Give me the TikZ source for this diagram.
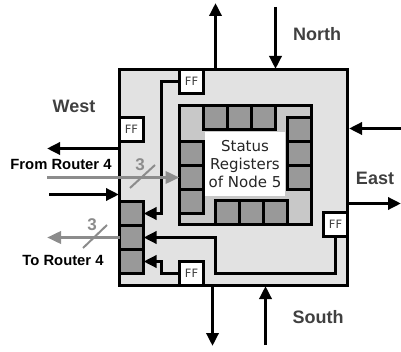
\documentclass[tikz,border=0pt]{standalone}
\usepackage{fontspec}
\setmainfont{DejaVu Sans}
\newfontfamily\labelfont{Liberation Sans}
\usetikzlibrary{arrows.meta}
\definecolor{outerfill}{HTML}{E2E2E2}
\definecolor{innerfill}{HTML}{C8C8C8}
\definecolor{cellfill}{HTML}{999999}
\definecolor{busgrey}{HTML}{8C8C8C}
\definecolor{labelgrey}{HTML}{404040}
\tikzset{
  x=1pt,y=-1pt,
  base/.style={draw=black,line width=3pt,inner sep=0pt,outer sep=0pt,minimum size=24pt},
  cellbox/.style={base,fill=cellfill},
  ffbox/.style={base,fill=white,text=labelgrey,font=\fontsize{11.5}{12}\selectfont},
  wire/.style={line width=3.6pt,black,line join=miter,-{Triangle[length=13pt,width=12pt]}},
  bus/.style={line width=3.6pt,busgrey,-{Triangle[length=14pt,width=12pt]}},
  slash/.style={line width=2pt,busgrey},
  portlabel/.style={font=\labelfont\bfseries\fontsize{18}{18}\selectfont,text=labelgrey,inner sep=0pt},
  routerlabel/.style={font=\labelfont\bfseries\fontsize{14.8}{15}\selectfont,text=black,inner sep=0pt},
  buslabel/.style={font=\labelfont\bfseries\fontsize{17}{17}\selectfont,text=busgrey,inner sep=0pt},
}
\begin{document}
\begin{tikzpicture}
\useasboundingbox (0,0) rectangle (401,352);
% boxes
\node[base,fill=outerfill,minimum width=228pt,minimum height=216pt] (outer) at (233.5,177.5) {};
\node[base,fill=innerfill,minimum width=132pt,minimum height=119pt] (inner) at (245.5,165) {};
% status text
\node[fill=white,minimum width=80pt,minimum height=64pt,inner sep=0pt,align=center,font=\fontsize{15}{18}\selectfont,text=black!85] (status) at (245,164.5) {Status\\Registers\\of Node 5};
% top cells
\node[cellbox] (t1) at (215.5,117.5) {};
\node[cellbox] (t2) at (239.5,117.5) {};
\node[cellbox] (t3) at (263.5,117.5) {};
% right cells
\node[cellbox] (r1) at (299.5,129.5) {};
\node[cellbox] (r2) at (299.5,153.5) {};
\node[cellbox] (r3) at (299.5,177.5) {};
% left cells
\node[cellbox] (l1) at (191.5,153.5) {};
\node[cellbox] (l2) at (191.5,177.5) {};
\node[cellbox] (l3) at (191.5,201.5) {};
% bottom cells
\node[cellbox] (b1) at (227.5,212.5) {};
\node[cellbox] (b2) at (251.5,212.5) {};
\node[cellbox] (b3) at (275.5,212.5) {};
% west cells
\node[cellbox] (w1) at (131.5,213.5) {};
\node[cellbox] (w2) at (131.5,237.5) {};
\node[cellbox] (w3) at (131.5,261.5) {};
% free ends
\coordinate (nout) at (215.5,3);
\coordinate (nin) at (275.5,7);
\coordinate (ein) at (401,128.5);
\coordinate (eout) at (401,203.5);
\coordinate (sout) at (212.5,346);
\coordinate (sin) at (265.5,345);
\coordinate (wout) at (47,148.5);
\coordinate (win) at (49,194.5);
\coordinate (gin) at (47,177.5);
\coordinate (gout) at (47,237.5);
\coordinate (s1a) at (130,188);
\coordinate (s1b) at (155,165);
\coordinate (s2a) at (83,248);
\coordinate (s2b) at (107,225);
% FF boxes
\node[ffbox] (fftop) at (191.5,81.5) {FF};
\node[ffbox] (ffwest) at (131.5,129.5) {FF};
\node[ffbox] (ffbot) at (191.5,273.5) {FF};
\node[ffbox] (ffeast) at (335.5,224.5) {FF};
% internal wires
\draw[wire] (fftop.west) -- (161.5,81.5) -- (161.5,213.5) -- (w1.east);
\draw[wire] (ffeast.south) -- (335.5,273.5) -- (215.5,273.5) -- (215.5,237.5) -- (w2.east);
\draw[wire] (ffbot.west) -- (161.5,273.5) -- (161.5,261.5) -- (w3.east);
% ports
\draw[wire] (215.5,69) -- (nout);
\draw[wire] (nin) -- (275.5,69);
\draw[wire] (ein) -- (349,128.5);
\draw[wire] (347.5,203.5) -- (eout);
\draw[wire] (212.5,286) -- (sout);
\draw[wire] (sin) -- (265.5,286);
\draw[wire] (119,148.5) -- (wout);
\draw[wire] (win) -- (119,194.5);
% buses
\draw[bus] (gin) -- (l2.west);
\draw[bus] (w2.west) -- (gout);
\draw[slash] (s1a) -- (s1b);
\draw[slash] (s2a) -- (s2b);
% labels
\node[buslabel] (n3a) at (140,165) {3};
\node[buslabel] (n3b) at (92,225) {3};
\node[portlabel] (west) at (74,106) {West};
\node[portlabel] (north) at (317,34) {North};
\node[portlabel] (east) at (375,178) {East};
\node[portlabel] (south) at (318,317) {South};
\node[routerlabel] (from) at (61,164) {From Router 4};
\node[routerlabel] (to) at (63,260) {To Router 4};
\end{tikzpicture}
\end{document}
